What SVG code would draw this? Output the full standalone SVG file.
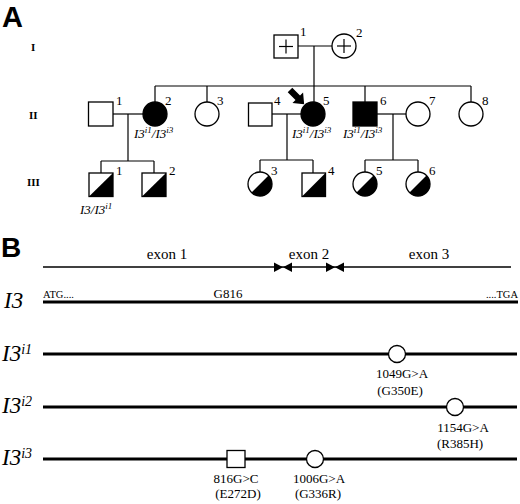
<svg xmlns="http://www.w3.org/2000/svg" width="520" height="504" viewBox="0 0 520 504">
<style>
.bg{fill:#fff}
.ln{stroke:#000;stroke-width:1.2;fill:none}
.sym{stroke:#000;stroke-width:1.3;fill:#fff}
.blk{fill:#000;stroke:#000;stroke-width:1.3}
.num{font-family:"Liberation Serif",serif;font-size:13px;fill:#000}
.gen{font-family:"Liberation Serif",serif;font-size:11px;font-weight:bold;fill:#000}
.geno{font-family:"Liberation Serif",serif;font-size:13px;font-style:italic;fill:#000}
.panel{font-family:"Liberation Sans",sans-serif;font-weight:bold;fill:#000}
.exon{font-family:"Liberation Serif",serif;font-size:15px;fill:#000;text-anchor:middle}
.mut{font-family:"Liberation Serif",serif;font-size:13px;fill:#000;text-anchor:middle}
.small{font-family:"Liberation Serif",serif;font-size:10.5px;fill:#000}
.gene{font-family:"Liberation Serif",serif;font-style:italic;font-size:23px;fill:#000}
.thick{stroke:#000;stroke-width:3.2}
.thin{stroke:#000;stroke-width:1.6}
.marker{stroke:#000;stroke-width:1.3;fill:#fff}
</style>
<rect class="bg" x="0" y="0" width="520" height="504"/>

<!-- Panel A -->
<text class="panel" x="2" y="26.5" font-size="29">A</text>
<text class="gen" x="31" y="51">I</text>
<text class="gen" x="29" y="119">II</text>
<text class="gen" x="27" y="186">III</text>

<g id="connectors">
  <line class="ln" x1="298" y1="46" x2="332" y2="46"/>
  <line class="ln" x1="314" y1="46" x2="314" y2="102"/>
  <line class="ln" x1="155" y1="86" x2="471" y2="86"/>
  <line class="ln" x1="155" y1="86" x2="155" y2="102"/>
  <line class="ln" x1="207" y1="86" x2="207" y2="102"/>
  <line class="ln" x1="365" y1="86" x2="365" y2="102"/>
  <line class="ln" x1="471" y1="86" x2="471" y2="102"/>
  <line class="ln" x1="113" y1="114" x2="143" y2="114"/>
  <line class="ln" x1="128" y1="114" x2="128" y2="161"/>
  <line class="ln" x1="101" y1="161" x2="154" y2="161"/>
  <line class="ln" x1="101" y1="161" x2="101" y2="173"/>
  <line class="ln" x1="154" y1="161" x2="154" y2="173"/>
  <line class="ln" x1="272" y1="114" x2="301" y2="114"/>
  <line class="ln" x1="287" y1="114" x2="287" y2="160"/>
  <line class="ln" x1="260" y1="160" x2="313" y2="160"/>
  <line class="ln" x1="260" y1="160" x2="260" y2="172"/>
  <line class="ln" x1="313" y1="160" x2="313" y2="173"/>
  <line class="ln" x1="377" y1="114" x2="406" y2="114"/>
  <line class="ln" x1="393" y1="114" x2="393" y2="160"/>
  <line class="ln" x1="365" y1="160" x2="418" y2="160"/>
  <line class="ln" x1="365" y1="160" x2="365" y2="172"/>
  <line class="ln" x1="418" y1="160" x2="418" y2="172"/>
</g>

<g id="I-1">
  <rect class="sym" x="274" y="35" width="24" height="23"/>
  <line class="ln" x1="279" y1="46.5" x2="293" y2="46.5"/>
  <line class="ln" x1="286" y1="39.5" x2="286" y2="53.5"/>
  <text class="num" x="300" y="36">1</text>
</g>
<g id="I-2">
  <circle class="sym" cx="344" cy="46" r="12"/>
  <line class="ln" x1="337" y1="46" x2="351" y2="46"/>
  <line class="ln" x1="344" y1="39" x2="344" y2="53"/>
  <text class="num" x="356" y="37">2</text>
</g>

<g id="II-1">
  <rect class="sym" x="88.5" y="102" width="24.5" height="24"/>
  <text class="num" x="116" y="105">1</text>
</g>
<g id="II-2">
  <circle class="blk" cx="155" cy="114" r="12"/>
  <text class="num" x="165" y="105">2</text>
  <text class="geno" x="134" y="138">I3<tspan font-size="9" dy="-5">i1</tspan><tspan dy="5">/I3</tspan><tspan font-size="9" dy="-5">i3</tspan></text>
</g>
<g id="II-3">
  <circle class="sym" cx="207" cy="114" r="12"/>
  <text class="num" x="217" y="105">3</text>
</g>
<g id="II-4">
  <rect class="sym" x="248.5" y="103" width="23.5" height="23"/>
  <text class="num" x="274" y="105">4</text>
</g>
<g id="II-5">
  <circle class="blk" cx="313" cy="114" r="12"/>
  <text class="num" x="323" y="105">5</text>
  <polygon fill="#000" transform="translate(290,90) rotate(45)" points="0,-3.2 11,-3.2 11,-7.5 20,0 11,7.5 11,3.2 0,3.2"/>
  <text class="geno" x="292" y="138">I3<tspan font-size="9" dy="-5">i1</tspan><tspan dy="5">/I3</tspan><tspan font-size="9" dy="-5">i3</tspan></text>
</g>
<g id="II-6">
  <rect class="blk" x="353" y="102" width="24" height="24"/>
  <text class="num" x="380" y="105">6</text>
  <text class="geno" x="343" y="138">I3<tspan font-size="9" dy="-5">i1</tspan><tspan dy="5">/I3</tspan><tspan font-size="9" dy="-5">i3</tspan></text>
</g>
<g id="II-7">
  <circle class="sym" cx="418" cy="114" r="12"/>
  <text class="num" x="429" y="105">7</text>
</g>
<g id="II-8">
  <circle class="sym" cx="471" cy="114" r="12"/>
  <text class="num" x="482" y="105">8</text>
</g>

<g id="III-1">
  <rect class="sym" x="89" y="173" width="24" height="23.5"/>
  <polygon fill="#000" points="89,196.5 113,173 113,196.5"/>
  <text class="num" x="116" y="175">1</text>
  <text class="geno" x="80" y="214">I3/I3<tspan font-size="9" dy="-5">i1</tspan></text>
</g>
<g id="III-2">
  <rect class="sym" x="142" y="173" width="24" height="23.5"/>
  <polygon fill="#000" points="142,196.5 166,173 166,196.5"/>
  <text class="num" x="169" y="175">2</text>
</g>
<g id="III-3">
  <circle class="sym" cx="260" cy="184" r="12"/>
  <path fill="#000" d="M251.5,192.5 L268.5,175.5 A12,12 0 0 1 251.5,192.5 Z"/>
  <text class="num" x="271" y="175">3</text>
</g>
<g id="III-4">
  <rect class="sym" x="302" y="173" width="23.5" height="23.5"/>
  <polygon fill="#000" points="302,196.5 325.5,173 325.5,196.5"/>
  <text class="num" x="328" y="175">4</text>
</g>
<g id="III-5">
  <circle class="sym" cx="365" cy="184" r="12"/>
  <path fill="#000" d="M356.5,192.5 L373.5,175.5 A12,12 0 0 1 356.5,192.5 Z"/>
  <text class="num" x="376" y="175">5</text>
</g>
<g id="III-6">
  <circle class="sym" cx="418" cy="184" r="12"/>
  <path fill="#000" d="M409.5,192.5 L426.5,175.5 A12,12 0 0 1 409.5,192.5 Z"/>
  <text class="num" x="429" y="175">6</text>
</g>

<text class="panel" x="1" y="257" font-size="28">B</text>

<g id="exon-map">
  <line class="thin" x1="43" y1="267" x2="511" y2="267"/>
  <polygon fill="#000" points="274,262.5 274,272 283,267.2"/>
  <polygon fill="#000" points="292,262.5 292,272 283,267.2"/>
  <polygon fill="#000" points="326,262.5 326,272 335,267.2"/>
  <polygon fill="#000" points="344,262.5 344,272 335,267.2"/>
  <text class="exon" x="167" y="259">exon 1</text>
  <text class="exon" x="309" y="259">exon 2</text>
  <text class="exon" x="429" y="259">exon 3</text>
</g>

<g id="I3">
  <text class="gene" x="4" y="308">I3</text>
  <line class="thick" x1="43" y1="302" x2="518" y2="302"/>
  <text class="small" x="43" y="298">ATG....</text>
  <text class="mut" x="228" y="298" font-size="12">G816</text>
  <text class="small" x="518" y="298" text-anchor="end">....TGA</text>
</g>

<g id="I3i1">
  <text class="gene" x="2" y="361">I3<tspan font-size="14" dy="-7">i1</tspan></text>
  <line class="thick" x1="43" y1="354" x2="517" y2="354"/>
  <circle class="marker" cx="397" cy="354" r="8.5"/>
  <text class="mut" x="402" y="378">1049G&gt;A</text>
  <text class="mut" x="400" y="395">(G350E)</text>
</g>

<g id="I3i2">
  <text class="gene" x="2" y="413">I3<tspan font-size="14" dy="-7">i2</tspan></text>
  <line class="thick" x1="43" y1="407" x2="517" y2="407"/>
  <circle class="marker" cx="455" cy="407" r="8.5"/>
  <text class="mut" x="463" y="432">1154G&gt;A</text>
  <text class="mut" x="460" y="448">(R385H)</text>
</g>

<g id="I3i3">
  <text class="gene" x="2" y="465">I3<tspan font-size="14" dy="-7">i3</tspan></text>
  <line class="thick" x1="43" y1="459" x2="517" y2="459"/>
  <rect class="marker" x="227" y="450.5" width="18" height="17"/>
  <circle class="marker" cx="315" cy="459" r="8.5"/>
  <text class="mut" x="236" y="483">816G&gt;C</text>
  <text class="mut" x="238" y="498">(E272D)</text>
  <text class="mut" x="319" y="483">1006G&gt;A</text>
  <text class="mut" x="318" y="498">(G336R)</text>
</g>
</svg>
